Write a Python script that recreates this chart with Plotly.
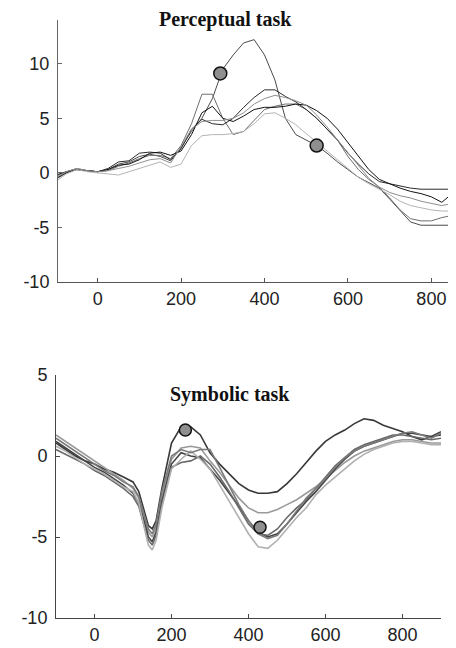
import plotly.graph_objects as go

# the page body has an 8px margin, so the figure is 8px smaller than the window
OFF = 8
W, H = 456 - OFF, 648 - OFF

# ---------------- data: Perceptual task (top) ----------------
top_x = [-100, -75, -50, -25, 0, 25, 50, 75, 100, 125, 150, 175, 200, 225, 250, 275,
         300, 325, 350, 375, 400, 425, 450, 475, 500, 525, 550, 575, 600, 625, 650,
         675, 700, 725, 750, 775, 800, 825, 850]

top_s1 = [-0.6, 0.0, 0.3, 0.2, 0.1, 0.3, 0.8, 1.0, 1.5, 1.7, 1.5, 1.1, 2.3, 3.8, 5.0, 6.8,
          9.5, 10.8, 11.9, 12.2, 10.8, 8.5, 5.0, 3.5, 3.0, 2.5, 1.8, 1.0, 0.3, -0.4, -0.9,
          -1.4, -2.4, -3.5, -4.5, -4.8, -4.8, -4.8, -4.8]
top_s2 = [-0.3, 0.1, 0.4, 0.2, 0.1, 0.2, 0.6, 0.9, 1.3, 1.6, 1.6, 1.3, 2.5, 4.5, 7.2, 7.2,
          5.0, 3.5, 3.8, 4.8, 5.8, 6.1, 6.3, 6.3, 5.8, 5.0, 4.0, 3.0, 1.5, 0.3, -0.6,
          -1.3, -2.3, -3.4, -4.2, -4.4, -4.4, -4.1, -3.9]
top_s3 = [-0.5, 0.0, 0.3, 0.2, 0.1, 0.4, 1.0, 1.1, 1.8, 1.9, 1.8, 1.2, 2.2, 4.0, 4.9, 4.5,
          4.4, 5.0, 6.0, 6.9, 7.6, 7.6, 7.0, 6.5, 5.8, 5.0, 4.0, 3.0, 1.8, 0.8, -0.1,
          -0.8, -1.0, -1.2, -1.4, -1.5, -1.5, -1.5, -1.5]
top_s4 = [-0.2, 0.1, 0.3, 0.2, 0.1, 0.3, 0.7, 0.8, 1.2, 1.8, 1.9, 1.6, 2.0, 3.5, 5.5, 6.1,
          5.0, 4.7, 5.2, 5.8, 6.0, 6.0, 6.1, 6.3, 6.2, 5.7, 5.0, 4.0, 2.8, 1.5, 0.3,
          -0.6, -1.0, -1.4, -1.7, -1.9, -2.2, -2.7, -1.9]
top_s5 = [-0.4, 0.1, 0.4, 0.2, 0.1, 0.2, 0.4, 0.6, 0.9, 1.2, 1.3, 0.9, 2.4, 4.0, 4.7, 4.8,
          4.8, 5.0, 5.5, 6.3, 6.8, 7.1, 6.9, 6.6, 6.2, 5.3, 4.2, 3.0, 1.8, 0.6, -0.5,
          -1.3, -1.8, -2.1, -2.3, -2.6, -2.8, -3.0, -2.8]
top_s6 = [-0.8, -0.1, 0.3, 0.1, 0.0, -0.1, -0.2, 0.1, 0.4, 0.7, 1.0, 0.5, 0.8, 2.5, 3.4, 3.5,
          3.5, 3.6, 3.8, 4.5, 5.4, 5.5, 5.0, 4.4, 3.6, 2.8, 2.0, 1.2, 0.4, -0.4, -1.0,
          -1.5, -2.0, -2.6, -3.0, -3.2, -3.4, -3.5, -3.5]
top_series = [top_s1, top_s2, top_s3, top_s4, top_s5, top_s6]
top_colors = ["#4a4a4a", "#6e6e6e", "#2a2a2a", "#111111", "#8e8e8e", "#b4b4b4"]
top_marker_x = [294, 525]
top_marker_y = [9.1, 2.5]

# ---------------- data: Symbolic task (bottom) ----------------
bot_x = [-100, -75, -50, -25, 0, 25, 50, 75, 100, 115, 130, 140, 150, 160, 175, 200, 225, 250, 275,
         300, 325, 350, 375, 400, 425, 450, 475, 500, 525, 550, 575, 600, 625, 650,
         675, 700, 725, 750, 775, 800, 825, 850, 875, 900]

bot_s1 = [0.8, 0.4, 0.0, -0.3, -0.5, -0.8, -1.0, -1.3, -1.6, -2.2, -3.5, -4.3, -4.5, -4.0, -2.0, 0.8, 1.8, 1.8, 1.3,
          0.2, -0.5, -1.1, -1.7, -2.1, -2.3, -2.3, -2.2, -1.7, -1.1, -0.4, 0.3, 0.9, 1.3, 1.6,
          2.0, 2.3, 2.2, 1.9, 1.7, 1.5, 1.2, 1.0, 1.2, 1.3]
bot_s2 = [1.3, 0.9, 0.5, 0.1, -0.3, -0.7, -1.1, -1.5, -2.0, -2.6, -3.8, -4.7, -5.0, -4.4, -2.5, -0.2, 0.5, 0.6, 0.5,
          -0.3, -1.0, -1.8, -2.6, -3.2, -3.5, -3.5, -3.3, -3.0, -2.7, -2.3, -1.9, -1.4, -0.9, -0.4,
          0.0, 0.3, 0.5, 0.7, 0.9, 1.0, 1.0, 0.9, 0.8, 0.8]
bot_s3 = [0.9, 0.5, 0.1, -0.3, -0.7, -1.0, -1.4, -1.8, -2.3, -2.9, -4.1, -5.0, -5.3, -4.7, -2.8, -0.5, 0.2, 0.0, -0.1,
          -0.8, -1.5, -2.3, -3.1, -4.0, -4.7, -5.0, -4.8, -4.2, -3.5, -2.8, -2.2, -1.5, -0.8, -0.2,
          0.3, 0.6, 0.8, 1.0, 1.2, 1.4, 1.4, 1.3, 1.2, 1.5]
bot_s4 = [0.4, 0.1, -0.2, -0.5, -0.9, -1.2, -1.6, -2.0, -2.5, -3.1, -4.4, -5.2, -5.5, -4.9, -3.0, -0.7, -0.4, -0.3, 0.0,
          -0.5, -1.3, -2.2, -3.2, -4.2, -4.8, -4.9, -4.5, -3.8, -3.2, -2.7, -2.0, -1.3, -0.6, -0.1,
          0.4, 0.7, 0.9, 1.1, 1.3, 1.3, 1.2, 1.1, 1.0, 1.1]
bot_s5 = [0.6, 0.3, -0.1, -0.5, -0.8, -1.1, -1.5, -1.9, -2.2, -2.9, -4.5, -5.5, -5.8, -5.2, -3.2, -0.8, -0.2, 0.3, -0.2,
          -0.8, -1.8, -2.8, -3.8, -4.8, -5.6, -5.7, -5.2, -4.5, -3.8, -3.2, -2.4, -1.8, -1.3, -0.8,
          -0.3, 0.1, 0.4, 0.6, 0.8, 0.9, 0.9, 0.8, 0.7, 0.7]
bot_s6 = [1.1, 0.7, 0.3, -0.1, -0.5, -0.9, -1.2, -1.6, -1.9, -2.5, -3.7, -4.5, -4.8, -4.2, -2.2, 0.0, 0.4, 0.2, 0.4,
          0.4, -0.7, -1.9, -3.0, -4.0, -4.8, -5.1, -4.9, -4.2, -3.4, -2.6, -2.0, -1.4, -0.7, -0.1,
          0.3, 0.6, 0.8, 1.0, 1.2, 1.4, 1.5, 1.3, 1.1, 1.4]
bot_series = [bot_s1, bot_s2, bot_s3, bot_s4, bot_s5, bot_s6]
bot_colors = ["#383838", "#9a9a9a", "#444444", "#6a6a6a", "#b0b0b0", "#7a7a7a"]
bot_marker_x = [236, 430]
bot_marker_y = [1.6, -4.4]

x_ticks = [0, 200, 400, 600, 800]
x_tick_text = ["0", "200", "400", "600", "800"]
top_y_ticks = [-10, -5, 0, 5, 10]
top_y_text = ["-10", "-5", "0", "5", "10"]
bot_y_ticks = [-10, -5, 0, 5]
bot_y_text = ["-10", "-5", "0", "5"]


def px_x(p):
    return (p - OFF) / W


def px_y(p):
    return 1 - (p - OFF) / H


fig = go.Figure()

for ys, c in zip(top_series, top_colors):
    fig.add_trace(go.Scatter(x=top_x, y=ys, mode="lines", xaxis="x", yaxis="y",
                             line=dict(color=c, width=1), hoverinfo="skip", showlegend=False))
fig.add_trace(go.Scatter(x=top_marker_x, y=top_marker_y, mode="markers", xaxis="x", yaxis="y",
                         marker=dict(size=13, color="#8f8f8f", line=dict(color="#111111", width=1.5)),
                         showlegend=False))

for ys, c in zip(bot_series, bot_colors):
    fig.add_trace(go.Scatter(x=bot_x, y=ys, mode="lines", xaxis="x2", yaxis="y2",
                             line=dict(color=c, width=1.6), hoverinfo="skip", showlegend=False))
fig.add_trace(go.Scatter(x=bot_marker_x, y=bot_marker_y, mode="markers", xaxis="x2", yaxis="y2",
                         marker=dict(size=12, color="#8f8f8f", line=dict(color="#111111", width=1.5)),
                         showlegend=False))

tickfont = dict(family="Liberation Sans, Arial, sans-serif", size=18, color="#222222")
common = dict(showgrid=False, zeroline=False, showline=True, ticks="inside", ticklen=4,
              tickwidth=1, tickfont=tickfont, fixedrange=True, automargin=False,
              tickmode="array")

fig.update_layout(
    width=W, height=H,
    margin=dict(l=0, r=0, t=0, b=0),
    paper_bgcolor="white", plot_bgcolor="white",
    xaxis=dict(domain=[px_x(58), 1.0], range=[-95, 859], tickvals=x_ticks, ticktext=x_tick_text,
               anchor="y", linecolor="#555555", tickcolor="#555555", **common),
    yaxis=dict(domain=[px_y(282), px_y(20)], range=[-10, 14], tickvals=top_y_ticks,
               ticktext=top_y_text, ticklabelstandoff=4,
               anchor="x", linecolor="#666666", tickcolor="#666666", **common),
    xaxis2=dict(domain=[px_x(56), px_x(441)], range=[-100, 900], tickvals=x_ticks, ticktext=x_tick_text,
                anchor="y2", linecolor="#444444", tickcolor="#444444", **common),
    yaxis2=dict(domain=[px_y(618), px_y(375)], range=[-10, 5], tickvals=bot_y_ticks,
                ticktext=bot_y_text, ticklabelstandoff=4,
                anchor="x2", linecolor="#444444", tickcolor="#444444", **common),
    annotations=[
        dict(text="<b>Perceptual task</b>", x=px_x(225), y=px_y(19), xref="paper", yref="paper",
             showarrow=False, xanchor="center", yanchor="middle",
             font=dict(family="Liberation Serif, Times New Roman, serif", size=20, color="#111111")),
        dict(text="<b>Symbolic task</b>", x=px_x(230), y=px_y(394), xref="paper", yref="paper",
             showarrow=False, xanchor="center", yanchor="middle",
             font=dict(family="Liberation Serif, Times New Roman, serif", size=20, color="#111111")),
    ],
)

fig.write_html("out.html")
